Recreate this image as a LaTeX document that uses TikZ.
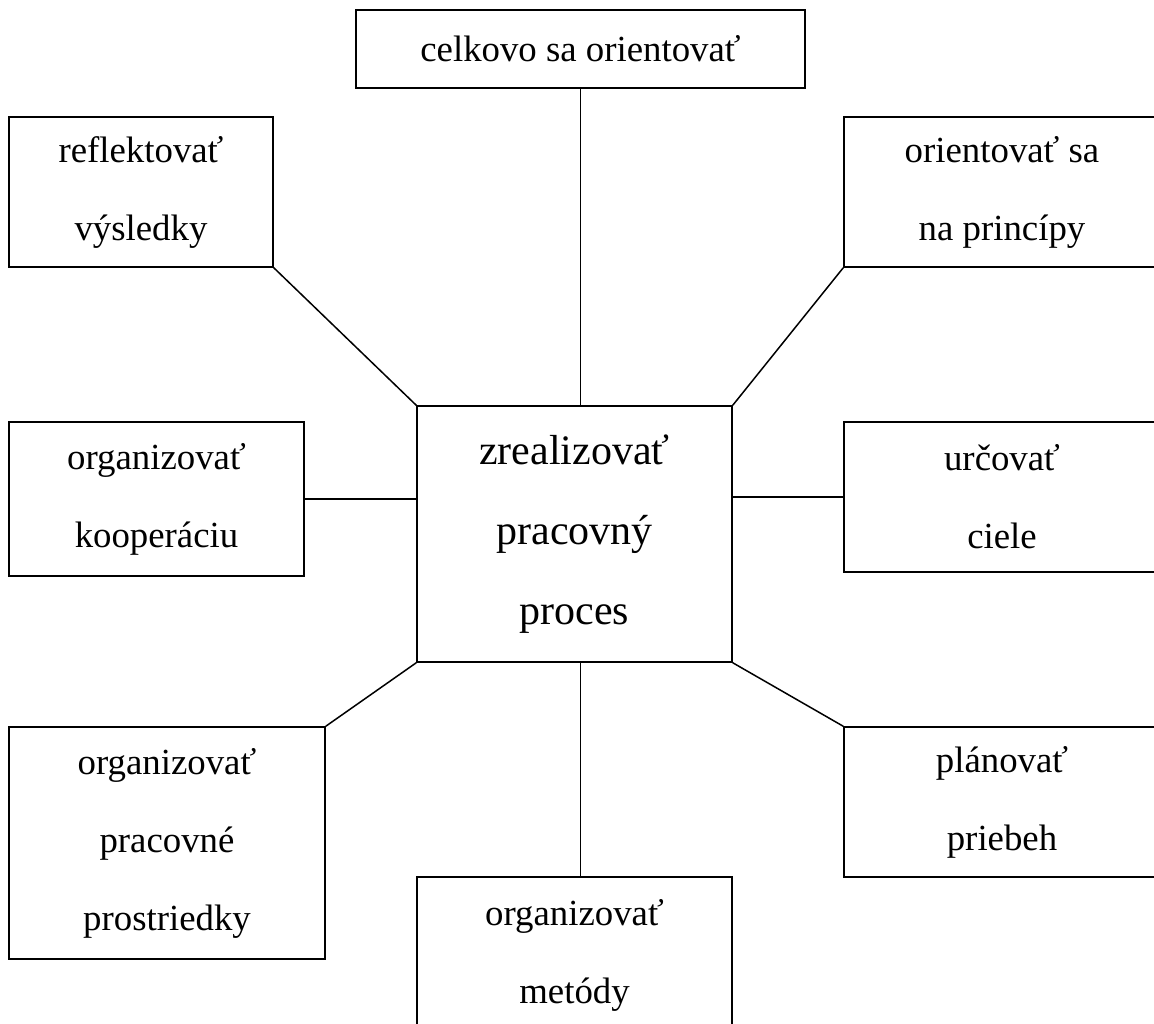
\documentclass[tikz,border=0pt]{standalone}
\usepackage{fontspec}
\setmainfont{Liberation Serif}
\usetikzlibrary{positioning}

\begin{document}
\begin{tikzpicture}[x=0.5pt, y=-0.5pt,
  item/.style={draw, rectangle, inner sep=0pt, align=center, line width=0.75pt, font=\fontsize{18.4}{39}\selectfont},
  link/.style={line width=0.75pt}]
\useasboundingbox (0,0) rectangle (1154,1023);
\clip (0,0) rectangle (1154,1023);
\node[item, minimum width=224.5pt, minimum height=39pt] (orient) at (580.5,49) {celkovo sa orientovať};
\node[item, minimum width=132pt, minimum height=75pt] (reflect) at (141,192) {reflektovať\\výsledky};
\node[item, minimum width=158pt, minimum height=75pt] (principles) at (1002,192) {orientovať sa\\na princípy};
\node[item, minimum width=157.5pt, minimum height=128pt, font=\fontsize{21}{40}\selectfont] (process) at (574.5,534) {zrealizovať\\pracovný\\proces};
\node[item, minimum width=147.5pt, minimum height=77pt] (coop) at (156.5,499) {organizovať\\kooperáciu};
\node[item, minimum width=158pt, minimum height=75pt] (goals) at (1002,497) {určovať\\ciele};
\node[item, minimum width=158pt, minimum height=116pt] (means) at (167,843) {organizovať\\pracovné\\prostriedky};
\node[item, minimum width=158pt, minimum height=75pt] (plan) at (1002,802) {plánovať\\priebeh};
\node[item, minimum width=157.5pt, minimum height=78pt] (methods) at (574.5,955) {organizovať\\metódy};
% spokes
\draw[link] (orient.south) -- (orient.south |- process.north);
\draw[link] (reflect.south east) -- (process.north west);
\draw[link] (principles.south west) -- (process.north east);
\draw[link] (coop.east) -- (coop.east -| process.west);
\draw[link] (goals.west) -- (goals.west -| process.east);
\draw[link] (means.north east) -- (process.south west);
\draw[link] (plan.north west) -- (process.south east);
\draw[link] (orient.south |- process.south) -- (orient.south |- methods.north);
\end{tikzpicture}
\end{document}
